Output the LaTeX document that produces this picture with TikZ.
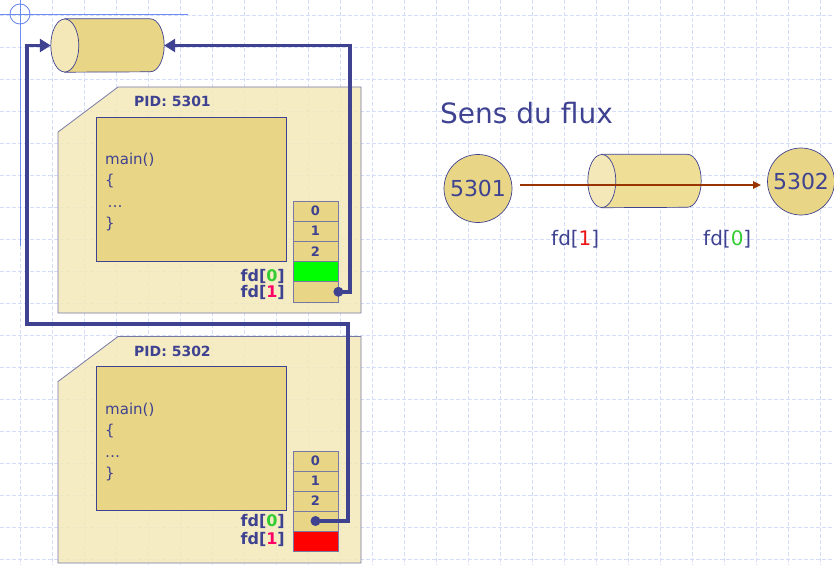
\documentclass[tikz,border=0pt]{standalone}
\usepackage{fontspec}
\setmainfont{DejaVu Sans}
\usepackage{xcolor}
\usetikzlibrary{positioning, shapes.geometric, arrows.meta}

\definecolor{ink}{RGB}{62,66,145}
\definecolor{paper}{RGB}{243,233,186}
\definecolor{sand}{RGB}{232,213,133}
\definecolor{face}{RGB}{244,232,184}
\definecolor{sandlight}{RGB}{238,222,150}
\definecolor{gridblue}{RGB}{212,222,250}
\definecolor{decoblue}{RGB}{110,140,240}
\definecolor{rim}{RGB}{120,120,165}
\definecolor{fdgreen}{RGB}{51,204,51}
\definecolor{fdpink}{RGB}{255,0,102}
\definecolor{fdred}{RGB}{235,20,20}
\definecolor{flowbrown}{RGB}{153,51,0}

\begin{document}
\begin{tikzpicture}[x=1pt, y=-1pt,
    gridline/.style={gridblue, line width=1pt, dash pattern=on 4pt off 2pt},
    deco/.style={decoblue, line width=0.9pt},
    pipebox/.style={rectangle, minimum width=113pt, minimum height=53pt, inner sep=0pt},
    pipeline/.style={draw=ink, line width=0.7pt},
    proc/.style={draw=rim, line width=0.8pt, fill=paper, fill opacity=0.85},
    codebox/.style={draw=ink, line width=0.7pt, fill=sand, minimum width=190pt, minimum height=144pt, inner sep=0pt},
    codetxt/.style={anchor=base west, inner sep=0pt, align=left, text=ink, font=\fontsize{15}{21.5}\selectfont},
    pid/.style={anchor=base west, inner sep=0pt, text=ink, font=\fontsize{14}{14}\selectfont\bfseries},
    fdcell/.style={draw=rim, line width=0.8pt, minimum width=45pt, minimum height=20.2pt, inner sep=0pt,
      text=ink, font=\fontsize{13}{13}\selectfont\bfseries},
    fdlab/.style={anchor=base east, inner sep=0pt, text=ink, font=\fontsize{16}{16}\selectfont\bfseries},
    dot/.style={circle, fill=ink, inner sep=0pt, minimum size=10pt},
    link/.style={draw=ink, line width=3.5pt, -{Triangle[length=11pt,width=13pt]}},
    pnode/.style={circle, draw=ink, line width=0.7pt, fill=sand, inner sep=0pt, text=ink,
      font=\fontsize{22}{22}\selectfont},
    flow/.style={draw=flowbrown, line width=2.5pt, -{Triangle[length=8pt,width=7pt]}},
    flowlab/.style={anchor=base west, inner sep=0pt, text=ink, font=\fontsize{20}{20}\selectfont}]
  \useasboundingbox (0,0) rectangle (834,565);

  % background grid
  \foreach \x in {20,52,...,820}
    \draw[gridline] (\x,0) -- (\x,565);
  \foreach \y in {15,47,...,559}
    \draw[gridline] (0,\y) -- (834,\y);

  \draw[deco] (0,14) -- (188,14);
  \draw[deco] (20,0) -- (20,246);
  \draw[deco] (20,14) circle[radius=10];

  % pipe
  \node[pipebox] (tube) at (107.5,45.5) {};
  \draw[pipeline, fill=sand] ([xshift=14pt]tube.north west) -- ([xshift=-14pt]tube.north east)
    arc[start angle=-90, end angle=90, x radius=14, y radius=26.5] -- ([xshift=14pt]tube.south west) -- cycle;
  \draw[pipeline, fill=face] ([xshift=14pt]tube.west) ellipse[x radius=14, y radius=26.5];

  % process 5301
  \path[proc] (58,132) -- (118,87) -- (361,87) -- (361,313) -- (58,313) -- cycle;
  \node[pid] (pidA) at (134,106.5) {PID: 5301};
  \node[codebox] (codeA) at (191,189) {};
  \node[codetxt] (txtA) at (105,228.5) {main()\\ \{\\ \,\ldots\\ \}};
  \foreach \r/\t/\f in {0/0/sand,1/1/sand,2/2/sand,3//green,4//sand}
    \node[fdcell, fill=\f] (a\r) at (315.5,{211+20.2*\r}) {\t};
  \node[fdlab] (fa0) at (285,281) {fd[\textcolor{fdgreen}{0}]};
  \node[fdlab] (fa1) at (285,297.5) {fd[\textcolor{fdpink}{1}]};

  % process 5302
  \path[proc] (58,381.5) -- (118,336.5) -- (361,336.5) -- (361,563) -- (58,563) -- cycle;
  \node[pid] (pidB) at (134,356) {PID: 5302};
  \node[codebox] (codeB) at (191,438.5) {};
  \node[codetxt] (txtB) at (105,478.5) {main()\\ \{\\ \ldots\\ \}};
  \foreach \r/\t/\f in {0/0/sand,1/1/sand,2/2/sand,3//sand,4//red}
    \node[fdcell, fill=\f] (b\r) at (315.5,{461+20*\r}) {\t};
  \node[fdlab] (fb0) at (285,526.5) {fd[\textcolor{fdgreen}{0}]};
  \node[fdlab] (fb1) at (285,544.5) {fd[\textcolor{fdpink}{1}]};

  % connections
  \node[dot] (d1) at (a4.east) {};
  \node[dot] (d2) at (b3) {};
  \coordinate (k1) at (350,45.5);
  \coordinate (k2) at (348,324);
  \coordinate (k3) at (27,45.5);
  \draw[link] (d1.center) -| (k1) -- (tube.east);
  \draw[link] (d2.center) -| (k2) -| (k3) -- (tube.west);

  % sens du flux
  \node[anchor=base west, inner sep=0pt, text=ink, font=\fontsize{28}{28}\selectfont] (title) at (440,123) {Sens du flux};
  \node[pnode, minimum size=68pt] (c1) at (478,188.5) {5301};
  \node[pnode, minimum size=67pt] (c2) at (801,181.5) {5302};
  \node[pipebox] (tube2) at (644.5,181) {};
  \draw[pipeline, fill=sandlight] ([xshift=14pt]tube2.north west) -- ([xshift=-14pt]tube2.north east)
    arc[start angle=-90, end angle=90, x radius=14, y radius=26.5] -- ([xshift=14pt]tube2.south west) -- cycle;
  \draw[pipeline, fill=face] ([xshift=14pt]tube2.west) ellipse[x radius=14, y radius=26.5];
  \coordinate (fy) at (0,185);
  \draw[flow, shorten <=8pt, shorten >=6pt] (c1.east |- fy) -- (c2.west |- fy);
  \node[flowlab] (r1) at (551,245) {fd[\textcolor{fdred}{1}]};
  \node[flowlab] (r0) at (703,245) {fd[\textcolor{fdgreen}{0}]};
\end{tikzpicture}
\end{document}
